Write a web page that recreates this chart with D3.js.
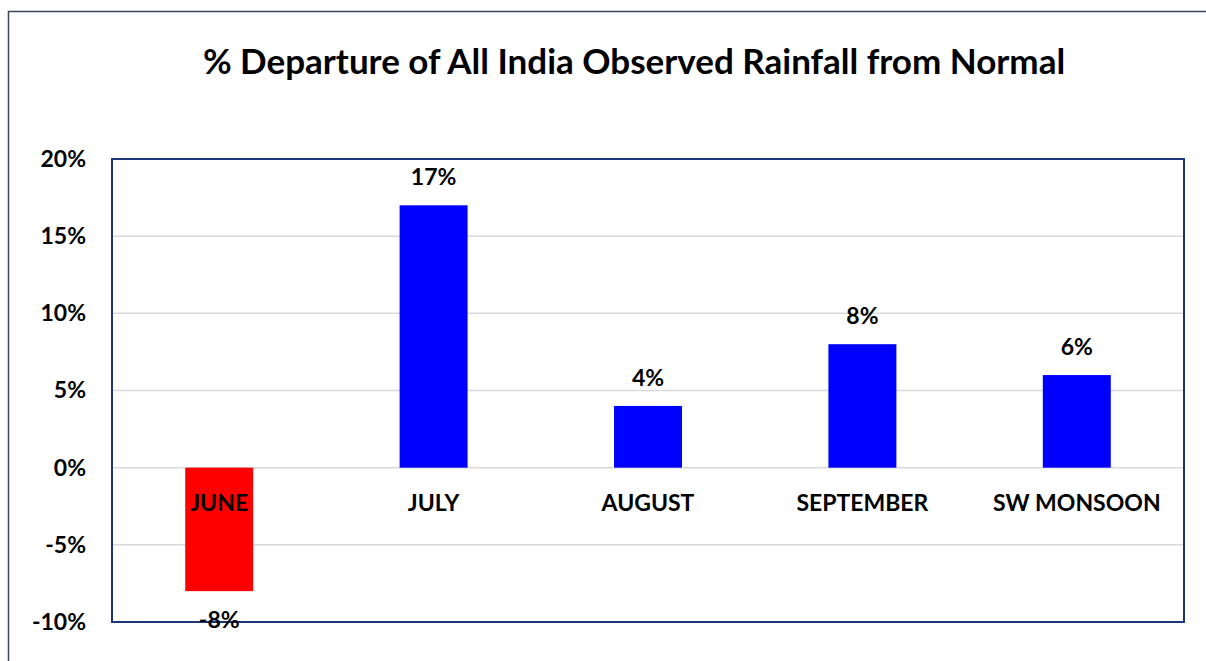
<!DOCTYPE html>
<html>
<head>
<meta charset="utf-8">
<script src="https://cdn.jsdelivr.net/npm/d3@7"></script>
<style>
  body { margin: 0; background: #fff; }
  svg text { font-family: Lato, "Open Sans", sans-serif; font-weight: bold; fill: #000; }
</style>
</head>
<body>
<svg id="chart" width="1206" height="661"></svg>
<script>
// chart data
var categories = ["JUNE", "JULY", "AUGUST", "SEPTEMBER", "SW MONSOON"];
var departures = [-8, 17, 4, 8, 6];
var yTicks = [-10, -5, 0, 5, 10, 15, 20];
var title = "% Departure of All India Observed Rainfall from Normal";

(function(){
    var svg = d3.select("#chart");
    var plot = {left: 112, top: 159, right: 1184, bottom: 622};

    //outer chart frame
    svg.append("rect")
        .attr("x", 8.5).attr("y", 11.5)
        .attr("width", 1206).attr("height", 700)
        .attr("fill", "none")
        .attr("stroke", "#3b4661")
        .attr("stroke-width", 1.5);

    svg.append("text")
        .attr("x", 634).attr("y", 74)
        .attr("text-anchor", "middle")
        .style("font-size", "35px")
        .text(title);

    var x = d3.scaleBand()
        .domain(categories)
        .range([plot.left, plot.right])
        .paddingInner(0.683)
        .paddingOuter(0.3415);

    var y = d3.scaleLinear()
        .domain([-10, 20])
        .range([plot.bottom, plot.top]);

    //gridlines
    svg.append("g")
        .selectAll("line")
        .data(yTicks)
        .join("line")
        .attr("x1", plot.left).attr("x2", plot.right)
        .attr("y1", d => y(d)).attr("y2", d => y(d))
        .attr("stroke", "#d9d9d9")
        .attr("stroke-width", 1.5);

    //y axis labels
    var yAxis = d3.axisLeft(y)
        .tickValues(yTicks)
        .tickSize(0)
        .tickPadding(26)
        .tickFormat(d => d + "%");
    svg.append("g")
        .attr("transform", "translate(" + plot.left + ",0)")
        .call(yAxis)
        .call(g => g.select(".domain").remove())
        .selectAll("text")
        .style("font-size", "23px");

    //bars
    svg.append("g")
        .selectAll("rect")
        .data(departures)
        .join("rect")
        .attr("x", (d, i) => x(categories[i]))
        .attr("width", x.bandwidth())
        .attr("y", d => y(Math.max(0, d)))
        .attr("height", d => Math.abs(y(d) - y(0)))
        .attr("fill", d => d < 0 ? "#ff0000" : "#0000ff");

    //category labels
    svg.append("g")
        .selectAll("text")
        .data(categories)
        .join("text")
        .attr("x", d => x(d) + x.bandwidth() / 2)
        .attr("y", y(0) + 43)
        .attr("text-anchor", "middle")
        .style("font-size", "23px")
        .text(d => d);

    //plot area border
    svg.append("rect")
        .attr("x", plot.left).attr("y", plot.top)
        .attr("width", plot.right - plot.left)
        .attr("height", plot.bottom - plot.top)
        .attr("fill", "none")
        .attr("stroke", "#1a3578")
        .attr("stroke-width", 2);

    //value labels (drawn over the border, like the -8% one)
    svg.append("g")
        .selectAll("text")
        .data(departures)
        .join("text")
        .attr("x", (d, i) => x(categories[i]) + x.bandwidth() / 2)
        .attr("y", d => d < 0 ? y(d) + 37 : y(d) - 20)
        .attr("text-anchor", "middle")
        .style("font-size", "23px")
        .text(d => d + "%");
})()
</script>
</body>
</html>
